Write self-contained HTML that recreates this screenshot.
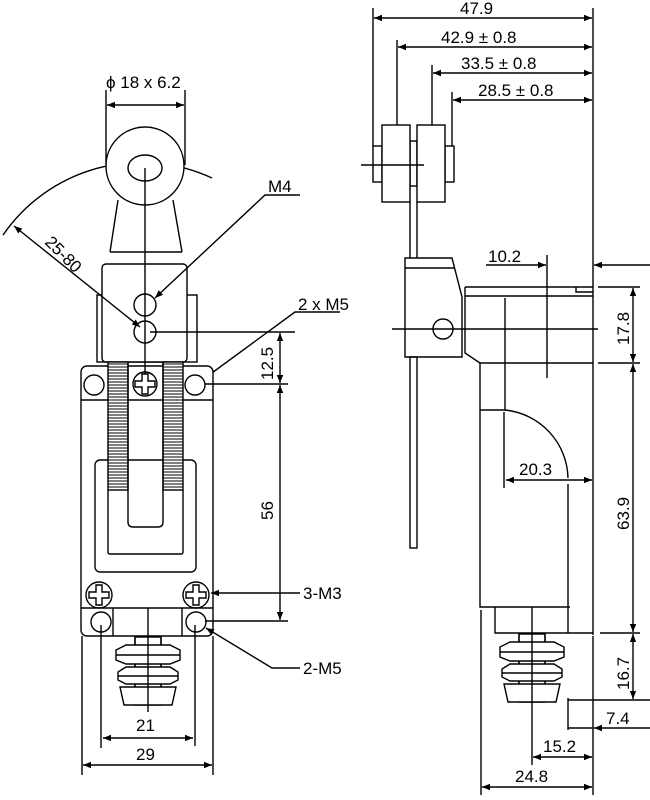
<!DOCTYPE html>
<html><head><style>body{margin:0;background:#fff}svg{display:block}text{font-family:"Liberation Sans",sans-serif;font-size:17px;fill:#000}</style></head>
<body>
<svg width="650" height="800" viewBox="0 0 650 800" xmlns="http://www.w3.org/2000/svg">
<defs>
<marker id="a" viewBox="0 0 10 10" refX="10" refY="5" markerWidth="11" markerHeight="8" orient="auto-start-reverse" markerUnits="userSpaceOnUse"><path d="M0,1 L10,5 L0,9 z" fill="#000"/></marker>
<pattern id="k" width="4" height="3" patternUnits="userSpaceOnUse"><rect width="4" height="3" fill="#fff"/><line x1="0" y1="1" x2="4" y2="1" stroke="#000" stroke-width="1"/></pattern>
<g id="bel">
<rect x="-13" y="0" width="26" height="68" fill="#fff"/>
<path d="M-22,8 L22,8 L32,13 L32,23 L22,27 L-22,27 L-32,23 L-32,13 Z" fill="#fff"/>
<path d="M-22,30 L22,30 L30,35 L30,43 L22,47 L-22,47 L-30,43 L-30,35 Z" fill="#fff"/>
<path d="M-28,50 L28,50 L24,68 L-24,68 Z" fill="#fff"/>
<path d="M-32,18 H32 M-30,39 H30 M-13,0 V8 M13,0 V8 M-13,27 V30 M13,27 V30 M-13,47 V50 M13,47 V50"/>
</g>
</defs>
<g fill="none" stroke="#000" stroke-width="1.4">
<!-- LEFT VIEW -->
<line x1="106" y1="90" x2="106" y2="165"/><line x1="185" y1="90" x2="185" y2="165"/>
<line x1="107" y1="105" x2="184" y2="105" marker-start="url(#a)" marker-end="url(#a)"/>
<path d="M3,235 A168,168 0 0 1 212,178"/>
<path d="M118,200 L110,252 M173,200 L182,252 M110,252 L182,252"/>
<circle cx="145" cy="166" r="39" fill="#fff"/>
<ellipse cx="145" cy="168" rx="17" ry="13"/>
<rect x="97" y="295" width="100" height="67"/>
<rect x="102" y="264" width="85" height="98" rx="4" fill="#fff"/>
<circle cx="145" cy="305" r="11"/><circle cx="145" cy="332" r="11"/>
<line x1="14" y1="226" x2="140" y2="327" marker-start="url(#a)" marker-end="url(#a)"/>
<path d="M300,195 L265,195 L155,298" marker-end="url(#a)"/>
<line x1="150" y1="332" x2="295" y2="332"/>
<path d="M340,312 L295,312 L205,378" marker-end="url(#a)"/>
<!-- body -->
<rect x="81" y="366" width="132" height="270" rx="6" fill="#fff"/>
<line x1="81" y1="400" x2="213" y2="400"/>
<rect x="95" y="460" width="101" height="112" rx="5"/>
<path d="M108,490 L108,552 Q108,554 110,554 L181,554 Q183,554 183,552 L183,490"/>
<rect x="108" y="362" width="20" height="128" fill="url(#k)"/>
<rect x="163" y="362" width="20" height="128" fill="url(#k)"/>
<path d="M128,362 L128,522 Q128,527 133,527 L158,527 Q163,527 163,522 L163,362"/>
<circle cx="94" cy="385" r="10"/><circle cx="195" cy="385" r="10"/>
<circle cx="145" cy="384" r="12" fill="#fff"/>
<path d="M142,374 h6 v7 h7 v6 h-7 v7 h-6 v-7 h-7 v-6 h7 z"/>
<line x1="145" y1="168" x2="145" y2="374"/>
<circle cx="99" cy="595" r="13"/><path d="M96,585 h6 v7 h7 v6 h-7 v7 h-6 v-7 h-7 v-6 h7 z"/>
<circle cx="196" cy="595" r="13"/><path d="M193,585 h6 v7 h7 v6 h-7 v7 h-6 v-7 h-7 v-6 h7 z"/>
<line x1="81" y1="608" x2="213" y2="608"/>
<line x1="113" y1="608" x2="113" y2="636"/><line x1="182" y1="608" x2="182" y2="636"/>
<circle cx="101" cy="622" r="10"/><circle cx="196" cy="622" r="10"/>
<use href="#bel" x="148" y="637"/>
<line x1="148" y1="608" x2="148" y2="712"/>
<line x1="101" y1="625" x2="101" y2="748"/><line x1="195" y1="625" x2="195" y2="746"/>
<line x1="82" y1="636" x2="82" y2="775"/><line x1="213" y1="636" x2="213" y2="775"/>
<line x1="103" y1="738" x2="193" y2="738" marker-start="url(#a)" marker-end="url(#a)"/>
<line x1="83" y1="765" x2="212" y2="765" marker-start="url(#a)" marker-end="url(#a)"/>
<line x1="205" y1="384" x2="288" y2="384"/><line x1="205" y1="621" x2="288" y2="621"/>
<line x1="280" y1="333" x2="280" y2="383" marker-start="url(#a)" marker-end="url(#a)"/>
<line x1="280" y1="385" x2="280" y2="620" marker-start="url(#a)" marker-end="url(#a)"/>
<line x1="300" y1="593" x2="211" y2="593" marker-end="url(#a)"/>
<path d="M300,668 L272,668 L206,628" marker-end="url(#a)"/>
<!-- RIGHT VIEW -->
<line x1="373" y1="8" x2="373" y2="146"/><line x1="397" y1="40" x2="397" y2="125"/>
<line x1="432" y1="65" x2="432" y2="125"/><line x1="452" y1="92" x2="452" y2="146"/>
<line x1="593" y1="8" x2="593" y2="287"/>
<line x1="374" y1="18" x2="592" y2="18" marker-start="url(#a)" marker-end="url(#a)"/>
<line x1="398" y1="47" x2="592" y2="47" marker-start="url(#a)" marker-end="url(#a)"/>
<line x1="433" y1="73" x2="592" y2="73" marker-start="url(#a)" marker-end="url(#a)"/>
<line x1="453" y1="100" x2="592" y2="100" marker-start="url(#a)" marker-end="url(#a)"/>
<rect x="373" y="146" width="9" height="36"/><rect x="445" y="146" width="9" height="36"/>
<rect x="410" y="141" width="7" height="45"/>
<rect x="382" y="125" width="28" height="77" fill="#fff"/><rect x="417" y="125" width="28" height="77" fill="#fff"/>
<line x1="361" y1="165" x2="424" y2="165"/>
<path d="M410,202 V258 M417,202 V258"/>
<rect x="410" y="357" width="7" height="191"/>
<path d="M405,258 L452,258 L462,297 L462,357 L405,357 Z M405,268 L455,268"/>
<circle cx="443" cy="329" r="10"/>
<path d="M465,287 L593,287 L593,635 M465,287 L465,353 L480,363 L480,607 L570,607 M465,296 L593,296 M576,287 L576,292 L593,292 M480,363 L593,363"/>
<line x1="392" y1="329" x2="598" y2="329"/>
<line x1="505" y1="298" x2="505" y2="410"/>
<line x1="547" y1="255" x2="547" y2="378"/>
<path d="M480,410 L505,410 A70,70 0 0 1 568,478"/>
<line x1="504" y1="412" x2="504" y2="488"/>
<line x1="568" y1="484" x2="568" y2="633"/>
<line x1="486" y1="265" x2="546" y2="265" marker-end="url(#a)"/>
<line x1="650" y1="265" x2="594" y2="265" marker-end="url(#a)"/>
<line x1="598" y1="287" x2="640" y2="287"/><line x1="598" y1="363" x2="640" y2="363"/>
<line x1="633" y1="288" x2="633" y2="362" marker-start="url(#a)" marker-end="url(#a)"/>
<line x1="633" y1="364" x2="633" y2="632" marker-start="url(#a)" marker-end="url(#a)"/>
<line x1="506" y1="480" x2="592" y2="480" marker-start="url(#a)" marker-end="url(#a)"/>
<path d="M495,607 L495,633 L593,633"/>
<line x1="600" y1="633" x2="640" y2="633"/>
<use href="#bel" x="532" y="634"/>
<line x1="532" y1="607" x2="532" y2="765"/>
<line x1="568" y1="700" x2="650" y2="700"/>
<line x1="633" y1="634" x2="633" y2="699" marker-start="url(#a)" marker-end="url(#a)"/>
<line x1="568" y1="698" x2="568" y2="730"/>
<line x1="568" y1="728" x2="593" y2="728"/>
<line x1="650" y1="728" x2="594" y2="728" marker-end="url(#a)"/>
<line x1="481" y1="610" x2="481" y2="795"/><line x1="593" y1="636" x2="593" y2="795"/>
<line x1="533" y1="757" x2="592" y2="757" marker-start="url(#a)" marker-end="url(#a)"/>
<line x1="482" y1="787" x2="592" y2="787" marker-start="url(#a)" marker-end="url(#a)"/>
</g>
<text x="106" y="88">ϕ 18 x 6.2</text>
<text x="268" y="192">M4</text>
<text x="298" y="310">2 x M5</text>
<text x="303" y="599">3-M3</text>
<text x="303" y="674">2-M5</text>
<text x="136" y="731">21</text>
<text x="136" y="760">29</text>
<text transform="translate(44,243) rotate(45)">25-80</text>
<text transform="translate(273,380) rotate(-90)">12.5</text>
<text transform="translate(273,520) rotate(-90)">56</text>
<text x="460" y="14">47.9</text>
<text x="441" y="43">42.9 ± 0.8</text>
<text x="461" y="69">33.5 ± 0.8</text>
<text x="478" y="96">28.5 ± 0.8</text>
<text x="488" y="262">10.2</text>
<text x="519" y="475">20.3</text>
<text transform="translate(629,345) rotate(-90)">17.8</text>
<text transform="translate(629,530) rotate(-90)">63.9</text>
<text transform="translate(629,690) rotate(-90)">16.7</text>
<text x="606" y="724">7.4</text>
<text x="543" y="752">15.2</text>
<text x="515" y="782">24.8</text>
</svg>
</body></html>
